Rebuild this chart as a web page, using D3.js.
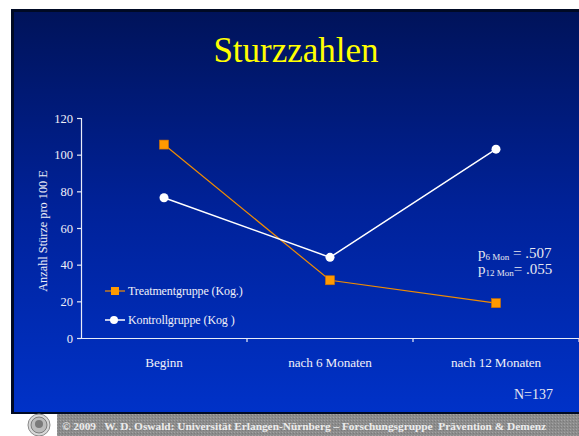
<!DOCTYPE html>
<html>
<head>
<meta charset="utf-8">
<script src="https://cdn.jsdelivr.net/npm/d3@7"></script>
<style>
  html, body { margin: 0; padding: 0; background: #ffffff; }
  svg { display: block; }
  text { font-family: "Liberation Serif", "Times New Roman", serif; }
</style>
</head>
<body>
<svg id="chart" width="579" height="436"></svg>
<script>
// ---- data ----
const categories = ["Beginn", "nach 6 Monaten", "nach 12 Monaten"];
const treatmentValues = [105.5, 31.5, 19];
const controlValues = [76.5, 44, 103];
const yTicks = [0, 20, 40, 60, 80, 100, 120];
const seriesNames = ["Treatmentgruppe (Kog.)", "Kontrollgruppe (Kog )"];
const titleText = "Sturzzahlen";
const yLabel = "Anzahl Stürze pro 100 E";
const nText = "N=137";
const footerText = "© 2009   W. D. Oswald: Universität Erlangen-Nürnberg – Forschungsgruppe  Prävention & Demenz";

const SERIF = "Liberation Serif, Times New Roman, serif";
const svg = d3.select("#chart");
const defs = svg.append("defs");
const grad = defs.append("linearGradient").attr("id", "bg").attr("x1", 0).attr("y1", 0).attr("x2", 0).attr("y2", 1);
grad.append("stop").attr("offset", "0%").attr("stop-color", "#00135a");
grad.append("stop").attr("offset", "50%").attr("stop-color", "#00229a");
grad.append("stop").attr("offset", "100%").attr("stop-color", "#0032c8");

const pat = defs.append("pattern").attr("id", "stipple").attr("width", 3).attr("height", 3).attr("patternUnits", "userSpaceOnUse");
pat.append("rect").attr("width", 3).attr("height", 3).attr("fill", "#8c8c8c");
pat.append("rect").attr("x", 0).attr("y", 0).attr("width", 1).attr("height", 1).attr("fill", "#a4a4a4");
pat.append("rect").attr("x", 2).attr("y", 1).attr("width", 1).attr("height", 1).attr("fill", "#7a7a7a");

// slide background
svg.append("rect").attr("x", 11).attr("y", 9).attr("width", 600).attr("height", 405).attr("fill", "#000a24");
svg.append("rect").attr("x", 14).attr("y", 12).attr("width", 600).attr("height", 400).attr("fill", "url(#bg)");

// footer
svg.append("rect").attr("x", 57).attr("y", 414).attr("width", 522).attr("height", 22).attr("fill", "url(#stipple)");
const logo = svg.append("g").attr("transform", "translate(39,425)");
logo.append("circle").attr("r", 11).attr("fill", "#d8d8d8").attr("stroke", "#8a8a8a").attr("stroke-width", 1);
logo.append("circle").attr("r", 8).attr("fill", "#bcbcbc").attr("stroke", "#6a6a6a").attr("stroke-width", 0.8);
logo.append("circle").attr("r", 4).attr("cy", -1).attr("fill", "#7a7a7a");
svg.append("text").attr("x", 62).attr("y", 430)
  .attr("font-size", 11).attr("font-weight", "bold").attr("fill", "#ececec")
  .attr("font-family", SERIF)
  .attr("textLength", 484).attr("lengthAdjust", "spacingAndGlyphs")
  .style("white-space", "pre")
  .text(footerText);

// title
svg.append("text").attr("x", 296).attr("y", 62).attr("text-anchor", "middle")
  .attr("font-family", SERIF)
  .attr("font-size", 35).attr("fill", "#ffff00").text(titleText);

// scales
const x = d3.scaleBand().domain(categories).range([81, 579]);
const y = d3.scaleLinear().domain([0, 120]).range([338, 118]);
const axisColor = "#e8ecf8";

// y axis
const yAxis = svg.append("g").attr("transform", "translate(81,0)")
  .call(d3.axisLeft(y).tickValues(yTicks).tickSize(4).tickPadding(4))
  .attr("font-family", SERIF);
yAxis.select(".domain").attr("stroke", axisColor).attr("stroke-width", 1.2);
yAxis.selectAll(".tick line").attr("stroke", axisColor).attr("stroke-width", 1.2);
yAxis.selectAll(".tick text").attr("fill", "#f0f0f8").attr("font-size", 12.5)
  .style("font-family", SERIF);

// x axis
const xAxis = svg.append("g").attr("transform", "translate(0,338)")
  .call(d3.axisBottom(x).tickSize(0).tickPadding(20))
  .attr("font-family", SERIF);
xAxis.select(".domain").attr("stroke", axisColor).attr("stroke-width", 1.2);
xAxis.selectAll(".tick text").attr("fill", "#f0f0f8").attr("font-size", 13.2)
  .style("font-family", SERIF).attr("letter-spacing", "-0.1");
xAxis.selectAll(".boundary").data(categories).enter().append("line")
  .attr("x1", d => x(d) + x.bandwidth()).attr("x2", d => x(d) + x.bandwidth())
  .attr("y1", 0).attr("y2", 4).attr("stroke", axisColor).attr("stroke-width", 1.2);

// y label
svg.append("text").attr("transform", "translate(47,231) rotate(-90)")
  .attr("font-family", SERIF)
  .attr("text-anchor", "middle").attr("font-size", 12.3).attr("fill", "#f0f0f8").text(yLabel);

// lines
const line = d3.line().x((d, i) => x(categories[i]) + x.bandwidth() / 2).y(d => y(d));
svg.append("path").datum(treatmentValues).attr("d", line)
  .attr("fill", "none").attr("stroke", "#f08c00").attr("stroke-width", 1.2);
svg.append("path").datum(controlValues).attr("d", line)
  .attr("fill", "none").attr("stroke", "#ffffff").attr("stroke-width", 1.5);

svg.selectAll(".tmark").data(treatmentValues).enter().append("rect")
  .attr("x", (d, i) => x(categories[i]) + x.bandwidth() / 2 - 4.5)
  .attr("y", d => y(d) - 4.5).attr("width", 9).attr("height", 9)
  .attr("fill", "#ff9900").attr("stroke", "#d07000").attr("stroke-width", 0.6);
svg.selectAll(".cmark").data(controlValues).enter().append("circle")
  .attr("cx", (d, i) => x(categories[i]) + x.bandwidth() / 2)
  .attr("cy", d => y(d)).attr("r", 4.5).attr("fill", "#ffffff");

// legend
const lg = svg.append("g").attr("font-family", SERIF);
lg.append("line").attr("x1", 105).attr("x2", 125).attr("y1", 291).attr("y2", 291).attr("stroke", "#f08c00").attr("stroke-width", 1.2);
lg.append("rect").attr("x", 111).attr("y", 287).attr("width", 8).attr("height", 8).attr("fill", "#ff9900");
lg.append("text").attr("x", 128).attr("y", 295).attr("font-size", 12).attr("letter-spacing", "-0.1").attr("fill", "#f0f0f8").text(seriesNames[0]);
lg.append("line").attr("x1", 105).attr("x2", 125).attr("y1", 320).attr("y2", 320).attr("stroke", "#ffffff").attr("stroke-width", 1.5);
lg.append("circle").attr("cx", 114).attr("cy", 320).attr("r", 4).attr("fill", "#ffffff");
lg.append("text").attr("x", 128).attr("y", 324).attr("font-size", 12).attr("letter-spacing", "-0.1").attr("fill", "#f0f0f8").text(seriesNames[1]);

// p-values
const p1 = svg.append("text").attr("x", 478).attr("y", 258).attr("font-size", 15).attr("font-family", SERIF).attr("fill", "#e8e8f0");
p1.append("tspan").text("p");
p1.append("tspan").attr("font-size", 9).attr("dy", 2).text("6 Mon");
p1.append("tspan").attr("dy", -2).text(" = .507");
const p2 = svg.append("text").attr("x", 478).attr("y", 274).attr("font-size", 15).attr("font-family", SERIF).attr("fill", "#e8e8f0");
p2.append("tspan").text("p");
p2.append("tspan").attr("font-size", 9).attr("dy", 2).text("12 Mon");
p2.append("tspan").attr("dy", -2).text("= .055");

// N
svg.append("text").attr("x", 553).attr("y", 399).attr("text-anchor", "end")
  .attr("font-family", SERIF)
  .attr("font-size", 14).attr("fill", "#e8e8f0").text(nText);
</script>
</body>
</html>
